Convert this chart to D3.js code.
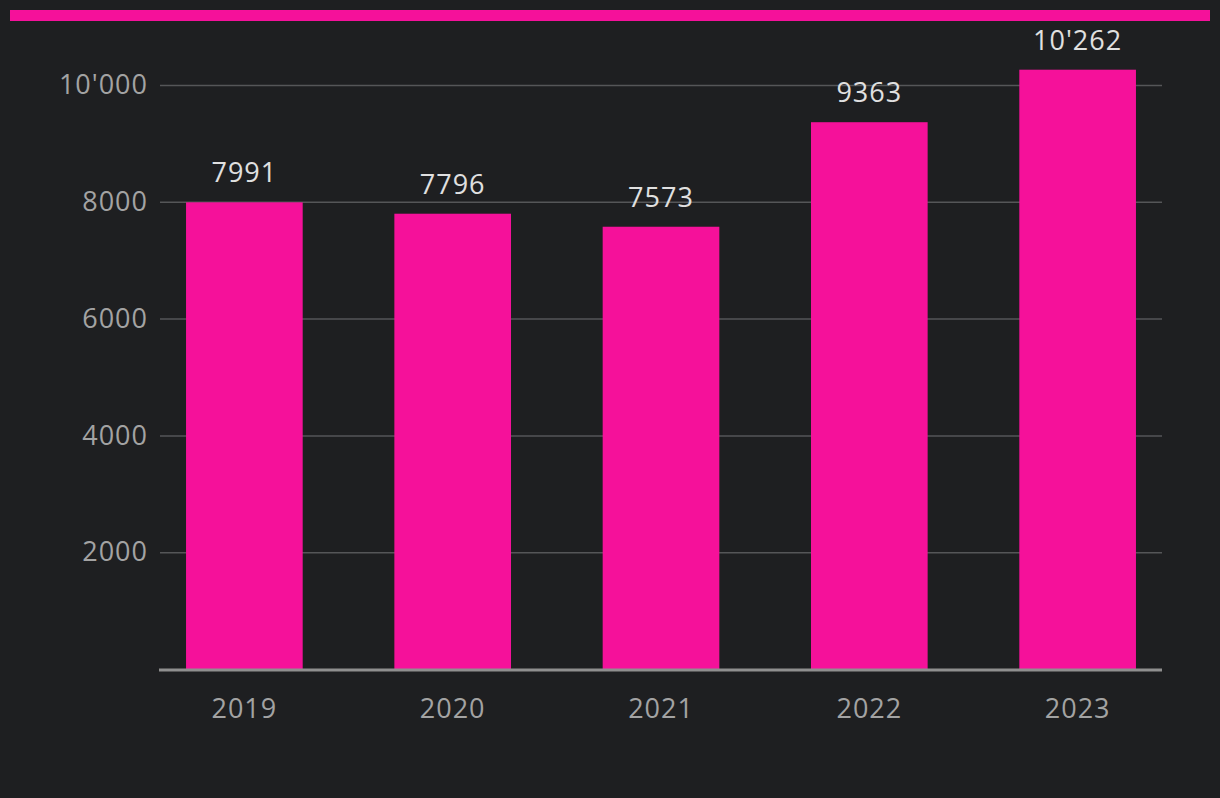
<!DOCTYPE html>
<html><head><meta charset="utf-8">
<script src="https://cdn.jsdelivr.net/npm/d3@7"></script>
<style>html,body{margin:0;padding:0;background:#1e1f21;}</style>
</head><body>
<svg id="c" width="1220" height="798"></svg>
<script>
const years = ["2019","2020","2021","2022","2023"];
const values = [7991, 7796, 7573, 9363, 10262];
const yTicks = [2000, 4000, 6000, 8000, 10000];

const svg = d3.select("#c");
const W = 1220, H = 798;
const m = {left:160, right:58, top:85, bottom:129};
const font = "'Open Sans', sans-serif";
const fmt = v => v >= 10000 ? d3.format(",")(v).replace(/,/g, "'") : String(v);

svg.append("rect").attr("width",W).attr("height",H).attr("fill","#1e1f21");
svg.append("rect").attr("x",10).attr("y",10).attr("width",1200).attr("height",11).attr("fill","#f5119a");

const x = d3.scaleBand().domain(years).range([m.left, W-m.right]).paddingInner(0.44).paddingOuter(0.125);
const y = d3.scaleLinear().domain([0,10000]).range([H-m.bottom, m.top]);

const yAxis = d3.axisLeft(y).tickValues(yTicks).tickSize(-(W-m.left-m.right)).tickPadding(12).tickFormat(fmt);
const gy = svg.append("g").attr("transform",`translate(${m.left},0)`).call(yAxis);
gy.select(".domain").remove();
gy.selectAll(".tick line").attr("stroke","#555658").attr("stroke-width",1.5);
gy.selectAll(".tick text").attr("fill","#a3a3a3").attr("font-size","27px").attr("font-family",font).attr("letter-spacing","1px");

svg.append("g").selectAll("rect").data(values).join("rect")
  .attr("x",(d,i)=>x(years[i])).attr("width",x.bandwidth())
  .attr("y",d=>y(d)).attr("height",d=>y(0)-y(d)).attr("fill","#f5119a");

svg.append("g").selectAll("text").data(values).join("text")
  .attr("x",(d,i)=>x(years[i])+x.bandwidth()/2).attr("y",d=>y(d)-20)
  .attr("text-anchor","middle").attr("fill","#e0e0e0").attr("font-size","27px").attr("font-family",font).attr("letter-spacing","1px")
  .text(fmt);

const xAxis = d3.axisBottom(x).tickSize(0).tickPadding(29);
const gx = svg.append("g").attr("transform",`translate(0,${y(0)+1})`).call(xAxis);
gx.select(".domain").attr("stroke","#8f8f8f").attr("stroke-width",3).attr("d",`M${m.left-1},0H${W-m.right}`);
gx.selectAll(".tick text").attr("fill","#a3a3a3").attr("font-size","27px").attr("font-family",font).attr("letter-spacing","1px");
</script>
</body></html>
